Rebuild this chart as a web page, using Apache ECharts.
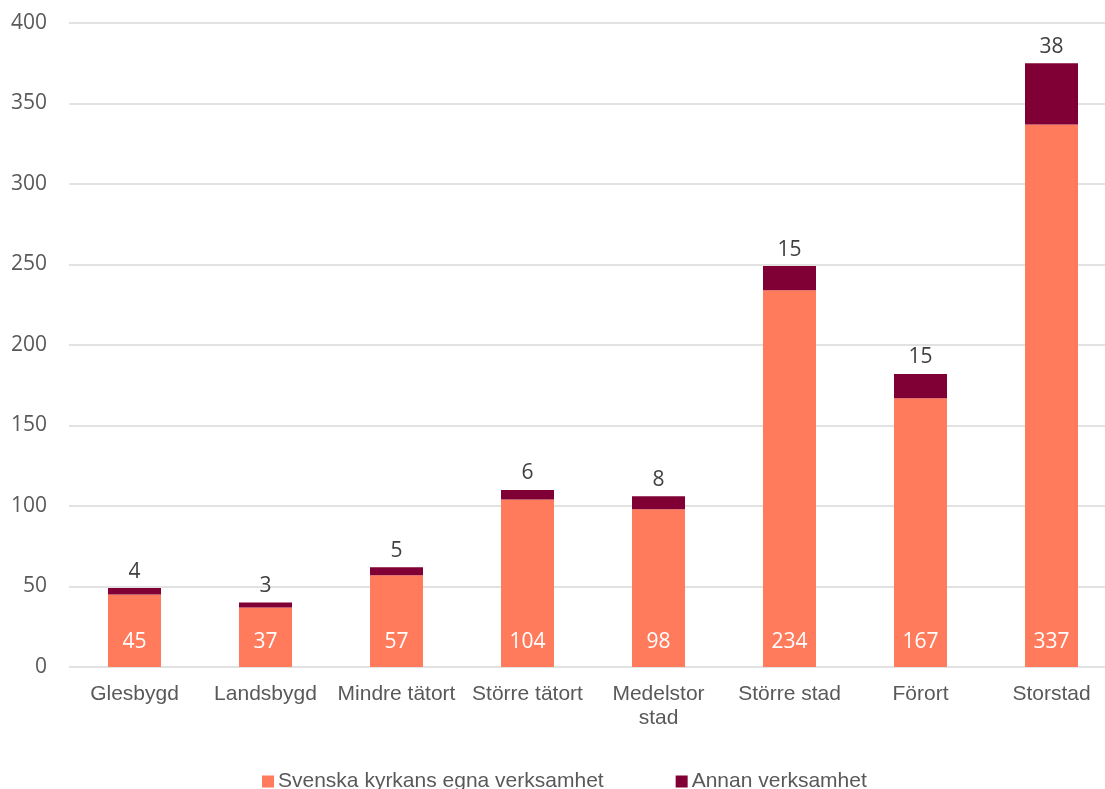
<!DOCTYPE html>
<html><head><meta charset="utf-8">
<script src="https://cdn.jsdelivr.net/npm/echarts@6/dist/echarts.min.js"></script>
<style>html,body{margin:0;padding:0;background:#fff}#c{width:1105px;height:789px}</style>
</head><body><div id="c"></div>
<script>
const categories = ['Glesbygd','Landsbygd','Mindre tätort','Större tätort','Medelstor\nstad','Större stad','Förort','Storstad'];
const egna = [45,37,57,104,98,234,167,337];
const annan = [4,3,5,6,8,15,15,38];
const yTicks = [0,50,100,150,200,250,300,350,400];

const chart = echarts.init(document.getElementById('c'));
chart.setOption({
  animation:false,
  grid:{left:69,width:1048,top:23,bottom:122,containLabel:false,outerBoundsMode:'none'},
  legend:{
    top:766,left:257,itemWidth:12,itemHeight:12,itemGap:72,
    icon:'rect',
    textStyle:{fontFamily:'Liberation Sans',fontSize:21,color:'#595959',padding:[0,0,0,-1]},
    data:['Svenska kyrkans egna verksamhet','Annan verksamhet']
  },
  xAxis:{
    type:'category',data:categories,
    axisLine:{show:false},axisTick:{show:false},
    axisLabel:{fontFamily:'Liberation Sans',fontSize:21,color:'#595959',margin:15,lineHeight:24,interval:0}
  },
  yAxis:{
    type:'value',min:yTicks[0],max:yTicks[yTicks.length-1],interval:50,
    axisLine:{show:false},axisTick:{show:false},
    splitLine:{lineStyle:{color:'#d9d9d9',width:1.5}},
    axisLabel:{fontFamily:'Open Sans',fontSize:21,color:'#595959',margin:22}
  },
  series:[
    {name:'Svenska kyrkans egna verksamhet',type:'bar',stack:'a',data:egna,barWidth:53,
     itemStyle:{color:'#FF7B5C'},
     label:{show:true,position:'insideBottom',distance:14,color:'#ffffff',fontFamily:'Open Sans',fontSize:21}},
    {name:'Annan verksamhet',type:'bar',stack:'a',data:annan,barWidth:53,
     itemStyle:{color:'#800035'},
     label:{show:true,position:'top',distance:6,color:'#404040',fontFamily:'Open Sans',fontSize:21}}
  ]
});
</script></body></html>
